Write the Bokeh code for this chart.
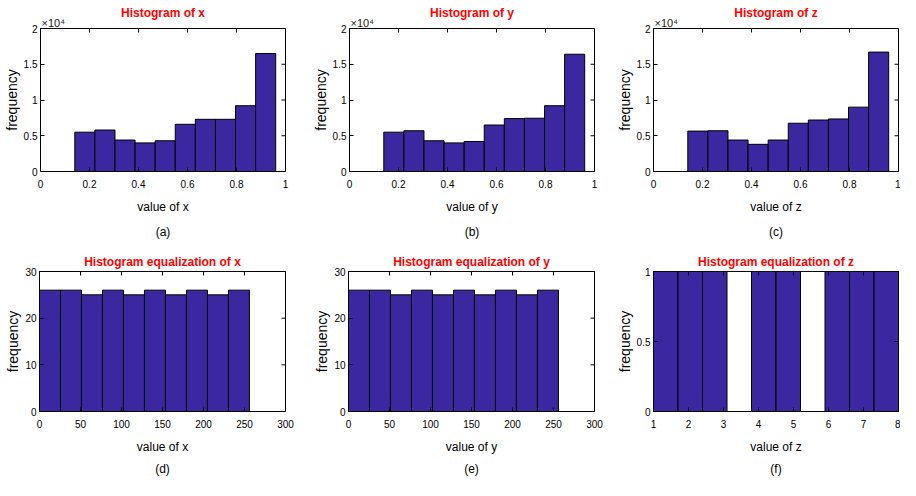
import math
from bokeh.plotting import figure
from bokeh.layouts import column, row
from bokeh.models import Title, FixedTicker, Range1d, CustomJSTickFormatter
from bokeh.embed import file_html
from bokeh.resources import INLINE

# ---------------- data ----------------
edges_xyz = [0.14, 0.222, 0.304, 0.386, 0.468, 0.55, 0.632, 0.714, 0.796, 0.878, 0.96]
counts_x = [5500, 5800, 4400, 4000, 4300, 6600, 7300, 7300, 9200, 16500]
counts_y = [5500, 5700, 4300, 4000, 4200, 6500, 7400, 7450, 9200, 16400]
counts_z = [5650, 5700, 4400, 3800, 4400, 6750, 7200, 7350, 9000, 16700]

edges_eq = [0, 25.6, 51.2, 76.8, 102.4, 128, 153.6, 179.2, 204.8, 230.4, 256]
counts_eq_x = [26, 26, 25, 26, 25, 26, 25, 26, 25, 26]
counts_eq_y = [26, 26, 25, 26, 25, 26, 25, 26, 25, 26]

edges_eq_z = [1, 1.7, 2.4, 3.1, 3.8, 4.5, 5.2, 5.9, 6.6, 7.3, 8]
counts_eq_z = [1, 1, 1, 0, 1, 1, 0, 1, 1, 1]

ticks_x_top = [0, 0.2, 0.4, 0.6, 0.8, 1]
ticks_y_top = [0, 5000, 10000, 15000, 20000]
ticks_x_eq = [0, 50, 100, 150, 200, 250, 300]
ticks_y_eq = [0, 10, 20, 30]
ticks_x_eqz = [1, 2, 3, 4, 5, 6, 7, 8]
ticks_y_eqz = [0, 0.5, 1]

titles = ["Histogram of x", "Histogram of y", "Histogram of z",
          "Histogram equalization of x", "Histogram equalization of y",
          "Histogram equalization of z"]
xlabels = ["value of x", "value of y", "value of z",
           "value of x", "value of y", "value of z"]
sublabels = ["(a)", "(b)", "(c)", "(d)", "(e)", "(f)"]
sci_label = "\u00d710\u2074"

# ---------------- style ----------------
BAR = "#3B27A0"
FONT = "Liberation Sans"


def panel(W, H, L, R, T, B, edges, counts, xr, yr, xt, yt, yscale,
          title, xlabel, sub, sci, sub_standoff, title_standoff):
    p = figure(width=W, height=H, min_border_left=L, min_border_right=R,
               min_border_top=T, min_border_bottom=B,
               x_range=Range1d(*xr), y_range=Range1d(*yr),
               output_backend="svg", toolbar_location=None, tools="")
    p.quad(left=edges[:-1], right=edges[1:], top=counts, bottom=0,
           fill_color=BAR, line_color="black", line_width=1)
    # inward ticks on the top and right edges (outer half of each dash is clipped)
    p.scatter(x=xt, y=[yr[1]] * len(xt), marker="dash", angle=math.pi / 2,
              size=8, line_color="black", line_width=1)
    p.scatter(x=[xr[1]] * len(yt), y=yt, marker="dash",
              size=8, line_color="black", line_width=1)
    p.xgrid.visible = False
    p.ygrid.visible = False
    p.outline_line_color = "black"
    p.background_fill_color = "white"
    p.border_fill_color = "white"

    if sci:
        p.add_layout(Title(text=sci_label, align="left", text_font=FONT,
                           text_font_size="11px", text_font_style="normal",
                           text_color="#222222", standoff=0, offset=1), "above")

    p.title.text = title
    p.title.align = "center"
    p.title.text_color = "red"
    p.title.text_font = FONT
    p.title.text_font_style = "bold"
    p.title.text_font_size = "12px"
    p.title.standoff = title_standoff

    xa = p.xaxis[0]
    ya = p.yaxis[0]
    xa.ticker = FixedTicker(ticks=xt)
    ya.ticker = FixedTicker(ticks=yt)
    xa.formatter = CustomJSTickFormatter(code="return String(tick);")
    ya.formatter = CustomJSTickFormatter(
        code="return String(Math.round(tick / %s * 1000) / 1000);" % yscale)
    for a in (xa, ya):
        a.major_tick_in = 4
        a.major_tick_out = 0
        a.minor_tick_in = 0
        a.minor_tick_out = 0
        a.axis_line_color = "black"
        a.major_tick_line_color = "black"
        a.major_label_text_font = FONT
        a.major_label_text_font_size = "10px"
        a.major_label_text_color = "black"
        a.axis_label_text_font = FONT
        a.axis_label_text_font_style = "normal"
        a.axis_label_text_color = "black"
    xa.major_label_standoff = 8
    ya.major_label_standoff = 3
    xa.axis_label = xlabel
    xa.axis_label_text_font_size = "12px"
    xa.axis_label_standoff = 9
    ya.axis_label = "frequency"
    ya.axis_label_text_font_size = "14px"
    ya.axis_label_standoff = 1

    p.add_layout(Title(text=sub, align="center", text_font=FONT,
                       text_font_size="12px", text_font_style="normal",
                       text_color="black", standoff=sub_standoff), "below")
    return p


# column geometry: (width, left border, right border)
cols = [(309, 39, 24), (304, 39, 19), (287, 39, 2)]
# row geometry: (height, top border, bottom border, sub standoff, title standoff)
rows_g = [(246, 28, 75, 13, -11), (234, 25, 69, 7, 5)]

specs = [
    (edges_xyz, counts_x, (0, 1), (0, 20000), ticks_x_top, ticks_y_top, 10000, True),
    (edges_xyz, counts_y, (0, 1), (0, 20000), ticks_x_top, ticks_y_top, 10000, True),
    (edges_xyz, counts_z, (0, 1), (0, 20000), ticks_x_top, ticks_y_top, 10000, True),
    (edges_eq, counts_eq_x, (0, 300), (0, 30), ticks_x_eq, ticks_y_eq, 1, False),
    (edges_eq, counts_eq_y, (0, 300), (0, 30), ticks_x_eq, ticks_y_eq, 1, False),
    (edges_eq_z, counts_eq_z, (1, 8), (0, 1), ticks_x_eqz, ticks_y_eqz, 1, False),
]

figs = []
for i, s in enumerate(specs):
    r = i // 3
    c = i % 3
    W, L, R = cols[c]
    H, T, B, sstand, tstand = rows_g[r]
    edges, counts, xr, yr, xt, yt, ysc, sci = s
    figs.append(panel(W, H, L, R, T, B, edges, counts, xr, yr, xt, yt, ysc,
                      titles[i], xlabels[i], sublabels[i], sci, sstand, tstand))

layout = column(row(*figs[:3]), row(*figs[3:]))

with open("out.html", "w") as f:
    f.write(file_html(layout, INLINE))
